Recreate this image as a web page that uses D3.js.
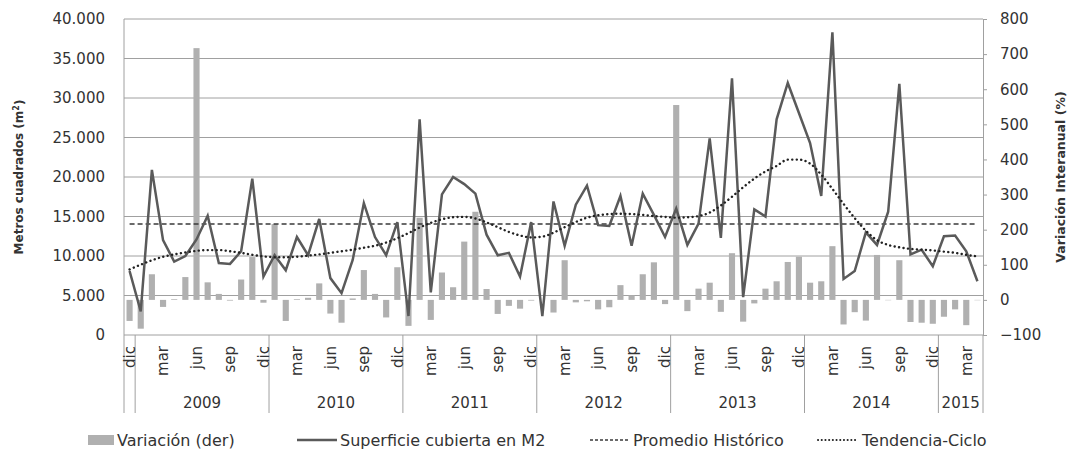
<!DOCTYPE html>
<html><head><meta charset="utf-8">
<script src="https://cdn.jsdelivr.net/npm/d3@7"></script>
<style>
html,body{margin:0;padding:0;background:#fff;}
text{font-family:"DejaVu Sans",sans-serif;fill:#333;}
</style></head>
<body><svg id="c" width="1070" height="450"></svg>
<script>
// ---- data ----
const monthNames = ["ene","feb","mar","abr","may","jun","jul","ago","sep","oct","nov","dic"];
const years = ["2009","2010","2011","2012","2013","2014","2015"];
// categories: dic 2008 ... abr 2015
const categories = ["dic"].concat(
  ...["2009","2010","2011","2012","2013","2014"].map(() => monthNames),
  ["ene","feb","mar","abr"]);
const superficie = [8100,3000,20900,12000,9300,10000,12100,15100,9100,9000,10600,19800,
  7400,10100,8200,12400,10100,14700,7200,5300,9500,16700,12400,10100,
  14300,2400,27300,5400,17800,20000,19100,17900,12700,10100,10400,7400,
  14300,2400,16900,11300,16500,18900,13900,13800,17600,11300,17900,15200,
  12400,16000,11400,14100,24900,12300,32500,4800,15900,15000,27300,31900,
  28100,24300,17600,38300,7100,8100,13000,11400,15600,31800,10200,10800,
  8700,12500,12600,10600,6800];
const variacion = [-60,-82,73,-20,2,65,717,50,17,-2,58,122,
  -8,216,-60,2,6,47,-39,-65,4,85,17,-50,
  93,-74,234,-57,78,36,166,251,31,-40,-17,-25,
  -2,0,-36,113,-7,-4,-27,-21,42,13,73,107,
  -12,555,-32,32,49,-34,133,-62,-10,32,53,108,
  123,49,53,153,-70,-35,-59,128,-1,113,-63,-65,
  -68,-48,-27,-72,-1];
const promedio = 14050;
const tendencia = [8300,8900,9450,9900,10200,10450,10650,10750,10750,10600,10400,10150,
  9950,9850,9850,9900,10050,10200,10400,10600,10800,11050,11300,11700,
  12250,12900,13600,14200,14650,14900,14950,14750,14250,13650,13050,12600,
  12350,12450,12950,13650,14300,14850,15150,15300,15350,15300,15200,15050,
  14950,14850,14900,15050,15500,16400,17500,18700,19800,20700,21400,22200,
  22200,21700,20300,18500,16600,14800,13200,12000,11400,11100,10900,10800,
  10700,10550,10400,10150,9950];
const leftTicks = [0,5000,10000,15000,20000,25000,30000,35000,40000];
const rightTicks = [-100,0,100,200,300,400,500,600,700,800];
const legendLabels = ["Variación (der)","Superficie cubierta en M2","Promedio Histórico","Tendencia-Ciclo"];

// ---- layout ----
const L = 124, R = 983, T = 19, B = 335;
const svg = d3.select("#c");
const n = categories.length;
const x = d3.scaleBand().domain(d3.range(n)).range([L, R]).paddingInner(0.45).paddingOuter(0.225);
const cx = i => x(i) + x.bandwidth() / 2;
const yL = d3.scaleLinear().domain([0, 40000]).range([B, T]);
const yR = d3.scaleLinear().domain([-100, 800]).range([B, T]);
const loc = d3.formatLocale({decimal: ",", thousands: ".", grouping: [3], currency: ["", ""]});
const fmt = loc.format(",");

// gridlines
svg.append("g").selectAll("line").data(leftTicks).join("line")
  .attr("x1", L).attr("x2", R).attr("y1", d => yL(d)).attr("y2", d => yL(d))
  .attr("stroke", "#a0a0a0").attr("stroke-width", 1);

// left axis labels
const ga = svg.append("g").attr("transform", `translate(${L},0)`)
  .call(d3.axisLeft(yL).tickValues(leftTicks).tickFormat(fmt).tickSize(0).tickPadding(19));
ga.select(".domain").remove();
ga.selectAll("text").style("font-family", "DejaVu Sans").style("font-size", "15px").attr("fill", "#333");

// right axis
const gr = svg.append("g").attr("transform", `translate(${R},0)`)
  .call(d3.axisRight(yR).tickValues(rightTicks).tickSize(4).tickSizeOuter(0).tickPadding(13));
gr.select(".domain").attr("stroke", "#a0a0a0");
gr.selectAll(".tick line").attr("stroke", "#a0a0a0");
gr.selectAll("text").style("font-family", "DejaVu Sans").style("font-size", "15px").attr("fill", "#333");

// left border + category separators
svg.append("line").attr("x1", L).attr("x2", L).attr("y1", T).attr("y2", 413).attr("stroke", "#a0a0a0");
svg.append("line").attr("x1", R).attr("x2", R).attr("y1", B).attr("y2", 413).attr("stroke", "#a0a0a0");
const sepIdx = [1, 13, 25, 37, 49, 61, 73];
const step = x.step();
svg.append("g").selectAll("line").data(sepIdx).join("line")
  .attr("x1", d => L + d * step).attr("x2", d => L + d * step)
  .attr("y1", B).attr("y2", 413).attr("stroke", "#a0a0a0");

// bars (right axis)
svg.append("g").selectAll("rect").data(variacion).join("rect")
  .attr("x", (d, i) => x(i)).attr("width", x.bandwidth())
  .attr("y", d => Math.min(yR(d), yR(0))).attr("height", d => Math.abs(yR(d) - yR(0)))
  .attr("fill", "#b0b0b0");

// month labels
svg.append("g").selectAll("text").data(categories.map((c, i) => ({c, i})).filter(d => d.i % 3 === 0)).join("text")
  .attr("transform", d => `translate(${cx(d.i)},346) rotate(-90)`)
  .attr("text-anchor", "end").attr("dy", "0.35em")
  .style("font-size", "15px").text(d => d.c);

// year labels
const yearSpans = years.map((yv, k) => {
  const s = 1 + 12 * k, e = Math.min(s + 12, n);
  return {yv, s, e};
});
svg.append("g").selectAll("text").data(yearSpans).join("text")
  .attr("x", d => L + (d.s + d.e) / 2 * step).attr("y", 408)
  .attr("text-anchor", "middle").style("font-size", "15px").text(d => d.yv);

// promedio
svg.append("line").attr("x1", cx(0)).attr("x2", cx(n - 1))
  .attr("y1", yL(promedio)).attr("y2", yL(promedio))
  .attr("stroke", "#3a3a3a").attr("stroke-width", 1.5).attr("stroke-dasharray", "5,3");

// superficie line
svg.append("path").datum(superficie)
  .attr("d", d3.line().x((d, i) => cx(i)).y(d => yL(d)))
  .attr("fill", "none").attr("stroke", "#5a5a5a").attr("stroke-width", 2.5).attr("stroke-linejoin", "miter");

// tendencia
svg.append("path").datum(tendencia)
  .attr("d", d3.line().x((d, i) => cx(i)).y(d => yL(d)).curve(d3.curveMonotoneX))
  .attr("fill", "none").attr("stroke", "#222").attr("stroke-width", 2.4)
  .attr("stroke-dasharray", "0.1,4.4").attr("stroke-linecap", "round");

// axis titles
const lt = svg.append("text").attr("transform", `translate(19,${(T + B) / 2}) rotate(-90)`)
  .attr("text-anchor", "middle").attr("dy", "0.35em")
  .style("font-size", "12px").style("font-weight", "bold");
lt.append("tspan").text("Metros cuadrados (m");
lt.append("tspan").text("2").style("font-size", "8px").attr("dy", "-0.5em");
lt.append("tspan").text(")").attr("dy", "0.4em");
svg.append("text").attr("transform", `translate(1061,${(T + B) / 2}) rotate(-90)`)
  .attr("text-anchor", "middle").attr("dy", "0.35em")
  .style("font-size", "12.5px").style("font-weight", "bold").text("Variación Interanual (%)");

// legend
const ly = 440;
const lg = svg.append("g");
lg.append("rect").attr("x", 88).attr("y", ly - 5).attr("width", 26).attr("height", 10).attr("fill", "#b0b0b0");
lg.append("line").attr("x1", 297).attr("x2", 337).attr("y1", ly).attr("y2", ly).attr("stroke", "#5a5a5a").attr("stroke-width", 2.5);
lg.append("line").attr("x1", 590).attr("x2", 630).attr("y1", ly).attr("y2", ly).attr("stroke", "#3a3a3a").attr("stroke-width", 1.5).attr("stroke-dasharray", "3,2");
lg.append("line").attr("x1", 818).attr("x2", 858).attr("y1", ly).attr("y2", ly).attr("stroke", "#222").attr("stroke-width", 2).attr("stroke-dasharray", "0.1,3.6").attr("stroke-linecap", "round");
const lx = [117, 340, 633, 862];
lg.selectAll("text").data(legendLabels).join("text")
  .attr("x", (d, i) => lx[i]).attr("y", ly).attr("dy", "0.35em")
  .style("font-size", "16px").text(d => d);
</script></body></html>
